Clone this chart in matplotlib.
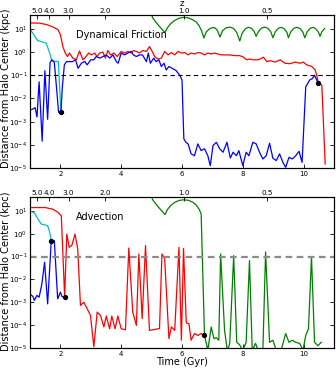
import numpy as np
import matplotlib
matplotlib.use("Agg")
import matplotlib.pyplot as plt

# ---------------- data (log10 of distance in kpc, time in Gyr) ----------------
# Top panel: Dynamical Friction
df_red_t = [0.99, 1.32, 1.54, 1.75, 1.92, 2.0, 2.08, 2.16, 2.23, 2.3, 2.41, 2.52, 2.63, 2.74, 2.8,
            2.93, 3.02, 3.13, 3.2, 3.29, 3.4, 3.48, 3.56, 3.65, 3.76, 3.87, 4.0, 4.11, 4.22, 4.33,
            4.4, 4.5, 4.6, 4.71, 4.83, 4.93, 5.02, 5.1, 5.21, 5.32, 5.43, 5.54, 5.65, 5.76, 5.87,
            5.98, 6.09, 6.2, 6.3, 6.41, 6.52, 6.63, 6.74, 6.85, 6.96, 7.07, 7.18, 7.29, 7.4, 7.57,
            7.73, 7.89, 8.0, 8.13, 8.22, 8.35, 8.51, 8.68, 8.79, 8.9, 9.06, 9.23, 9.39, 9.55, 9.72,
            9.88, 9.99, 10.1, 10.27, 10.38, 10.43, 10.49, 10.6, 10.71]
df_red_v = [1.26, 1.25, 1.19, 1.09, 0.97, 0.75, 0.24, -0.04, -0.19, -0.04, -0.26, -0.33, 0.05, -0.33, -0.26,
            -0.04, -0.12, -0.04, -0.19, -0.04, 0.0, -0.26, 0.07, -0.12, -0.04, -0.19, 0.03, -0.04, 0.03, -0.04,
            0.07, 0.03, -0.04, 0.07, 0.03, 0.24, 0.03, -0.19, -0.3, -0.26, 0.03, -0.12, -0.02, -0.12, 0.03,
            -0.04, -0.02, -0.12, -0.04, -0.08, -0.02, -0.04, -0.12, -0.04, -0.08, -0.04, -0.08, -0.12, -0.12, -0.12,
            -0.15, -0.15, -0.2, -0.33, -0.3, -0.33, -0.33, -0.22, -0.41, -0.37, -0.43, -0.33, -0.48, -0.5, -0.43,
            -0.48, -0.43, -0.55, -0.62, -0.77, -0.99, -1.35, -1.42, -4.83]

df_cyan_t = [0.99, 1.1, 1.25, 1.4, 1.53, 1.63, 1.71, 1.8, 1.93, 1.98, 2.02]
df_cyan_v = [1.0, 0.8, 0.5, 0.44, 0.39, 0.03, -0.33, -0.4, -0.4, -1.64, -2.6]

df_blue_t = [0.99, 1.1, 1.17, 1.23, 1.3, 1.4, 1.49, 1.58, 1.66, 1.72, 1.8, 1.87, 1.94, 2.02, 2.06,
             2.13, 2.2, 2.3, 2.4, 2.5, 2.58, 2.69, 2.8, 2.88, 3.0, 3.1, 3.18, 3.29, 3.4, 3.51, 3.62,
             3.73, 3.84, 3.9, 4.0, 4.11, 4.22, 4.33, 4.4, 4.5, 4.6, 4.7, 4.83, 4.89, 4.96, 5.07, 5.15,
             5.24, 5.32, 5.41, 5.48, 5.57, 5.68, 5.81, 5.92, 6.0, 6.06, 6.13, 6.2, 6.3, 6.41, 6.52,
             6.63, 6.74, 6.85, 6.93, 7.02, 7.13, 7.24, 7.35, 7.48, 7.59, 7.68, 7.79, 7.87, 8.0, 8.11,
             8.2, 8.33, 8.44, 8.55, 8.66, 8.77, 8.88, 8.99, 9.1, 9.21, 9.32, 9.41, 9.52, 9.63, 9.74,
             9.85, 9.95, 10.07, 10.2, 10.28, 10.36, 10.43, 10.49]
df_blue_v = [-2.51, -2.45, -2.4, -2.8, -1.28, -3.84, -0.8, -2.9, -0.45, -0.33, -0.45, -1.5, -2.6, -2.6, -1.57,
             -0.55, -0.41, -0.41, -0.41, -0.33, -0.7, -0.48, -0.4, -0.55, -0.33, -0.33, -0.19, -0.26, -0.19, -0.12, -0.26,
             -0.12, -0.41, -0.48, -0.04, -0.12, -0.04, 0.03, -0.12, -0.19, -0.12, -0.12, -0.41, -0.04, -0.48, -0.26, -0.41,
             -0.33, -0.62, -0.48, -0.77, -0.62, -0.7, -0.8, -0.99, -1.2, -3.74, -3.89, -3.96, -4.39, -4.47, -3.96,
             -4.25, -4.17, -4.47, -4.9, -4.03, -3.89, -4.17, -4.32, -3.89, -4.57, -4.32, -4.47, -4.25, -4.9, -4.32,
             -4.47, -3.89, -3.96, -4.32, -4.61, -4.47, -3.93, -4.58, -4.68, -4.39, -4.76, -4.97, -4.54, -4.61, -4.47,
             -4.28, -4.76, -1.5, -1.2, -1.15, -1.0, -1.2, -1.35]

df_green_t = [4.95, 5.05, 5.15, 5.25, 5.35, 5.44, 5.52, 5.62, 5.75, 5.9, 6.05, 6.2, 6.35, 6.47, 6.57,
              6.65, 6.72, 6.8, 6.9, 7.0, 7.08, 7.16, 7.25, 7.33, 7.45, 7.58, 7.7, 7.8, 7.9, 7.98,
              8.08, 8.18, 8.28, 8.37, 8.44, 8.52, 8.62, 8.72, 8.82, 8.92, 8.99, 9.07, 9.17, 9.27, 9.37,
              9.45, 9.5, 9.58, 9.68, 9.78, 9.88, 9.97, 10.04, 10.12, 10.22, 10.32, 10.42, 10.49, 10.54,
              10.6, 10.69]
df_green_v = [1.75, 1.45, 1.28, 1.12, 0.97, 0.85, 1.05, 1.22, 1.36, 1.46, 1.5, 1.48, 1.4, 1.3, 1.12,
              0.9, 0.61, 0.88, 1.0, 1.06, 1.05, 0.95, 0.65, 0.92, 1.05, 1.08, 1.02, 0.85, 0.48, 0.82,
              1.0, 1.07, 1.03, 0.9, 0.68, 0.9, 1.04, 1.08, 1.03, 0.88, 0.62, 0.88, 1.03, 1.07, 1.0,
              0.85, 0.62, 0.88, 1.03, 1.07, 1.02, 0.88, 0.62, 0.88, 1.03, 1.07, 0.98, 0.85, 0.68,
              0.88, 1.02]

df_dots_t = [2.02, 10.49]
df_dots_v = [-2.6, -1.35]

# Bottom panel: Advection
ad_red_t = [0.99, 1.5, 1.75, 1.92, 2.03, 2.14, 2.21, 2.29, 2.38, 2.48, 2.57, 2.66, 2.77, 2.88, 2.99,
            3.1, 3.21, 3.32, 3.43, 3.51, 3.62, 3.69, 3.8, 3.89, 4.0, 4.14, 4.25, 4.38, 4.5, 4.58,
            4.69, 4.8, 4.93, 5.26, 5.34, 5.43, 5.57, 5.65, 5.76, 5.9, 5.98, 6.05, 6.14, 6.23, 6.3,
            6.41, 6.52, 6.63, 6.74]
ad_red_v = [1.14, 1.14, 1.07, 0.93, 0.78, -2.78, -0.02, -0.6, -0.5, -0.02, -0.67, -3.14, -3.0, -3.28, -3.58,
            -4.95, -3.43, -3.58, -4.08, -3.6, -4.16, -3.6, -4.16, -3.6, -4.16, -4.2, -0.63, -3.43, -4.01, -0.89,
            -3.72, -0.52, -4.23, -4.15, -0.89, -1.1, -4.59, -4.08, -4.23, -0.6, -4.66, -0.65, -3.9, -3.94, -4.66,
            -4.37, -4.45, -4.37, -4.45]

ad_cyan_t = [0.99, 1.15, 1.26, 1.37, 1.58, 1.64, 1.7]
ad_cyan_v = [1.0, 0.9, 0.64, 0.42, 0.35, 0.1, -0.31]

ad_blue_t = [0.99, 1.1, 1.14, 1.23, 1.3, 1.39, 1.48, 1.58, 1.7, 1.8, 1.91, 2.0, 2.05, 2.13]
ad_blue_v = [-2.63, -2.75, -2.92, -2.7, -2.78, -2.2, -1.25, -3.07, -0.31, -0.31, -2.85, -2.56, -2.75, -2.78]

ad_green_t = [4.95, 5.05, 5.15, 5.25, 5.35, 5.44, 5.52, 5.62, 5.75, 5.9, 6.05, 6.2, 6.35, 6.47, 6.57,
              6.63, 6.74, 6.85, 6.96, 7.05, 7.13, 7.21, 7.27, 7.4, 7.49, 7.57, 7.7, 7.8, 7.89, 8.0,
              8.11, 8.22, 8.31, 8.42, 8.5, 8.66, 8.75, 8.88, 8.99, 9.1, 9.26, 9.41, 9.52, 9.63, 9.74,
              9.87, 9.98, 10.07, 10.16, 10.26, 10.36, 10.47, 10.58]
ad_green_v = [1.75, 1.45, 1.28, 1.12, 0.97, 0.83, 1.05, 1.22, 1.36, 1.45, 1.48, 1.46, 1.38, 1.25, 1.05,
              0.86, -4.45, -5.1, -4.08, -4.59, -4.55, -4.66, -0.89, -4.23, -5.1, -4.81, -0.96, -4.75, -4.85, -5.1,
              -4.75, -1.18, -5.1, -4.8, -5.1, -5.1, -0.8, -4.75, -4.66, -5.1, -5.1, -4.37, -4.75, -4.66, -4.75,
              -4.8, -5.1, -4.45, -4.16, -1.03, -4.75, -4.9, -4.75]

ad_dots_t = [1.7, 2.14, 6.74]
ad_dots_v = [-0.31, -2.78, -4.45]

threshold = 0.1

# redshift axis
z_labels = ["5.0", "4.0", "3.0", "2.0", "1.0", "0.5"]
z_times = [1.23, 1.63, 2.27, 3.46, 6.07, 8.79]

time_ticks = [2, 4, 6, 8, 10]
ytick_exp = [1, 0, -1, -2, -3, -4, -5]

# ---------------- plotting ----------------
plt.rcParams['font.family'] = ['DejaVu Sans']
fig = plt.figure(figsize=(3.36, 3.88), dpi=100)

ax_top = fig.add_axes([30/336, 1 - 168/388, 304/336, 153/388])
ax_bot = fig.add_axes([30/336, 1 - 348/388, 304/336, 151/388])

RED = (1, 0, 0)
CYAN = (0, 0.75, 0.75)
BLUE = (0, 0, 1)
GREEN = (0, 0.5, 0)
LW = 0.9


def p(v):
    return 10.0 ** np.asarray(v)


panels = [
    (ax_top, [(df_green_t, df_green_v, GREEN), (df_red_t, df_red_v, RED),
              (df_cyan_t, df_cyan_v, CYAN), (df_blue_t, df_blue_v, BLUE)],
     df_dots_t, df_dots_v, "Dynamical Friction", dict(color='k', lw=0.8, ls=(0, (4, 3))), 0.52),
    (ax_bot, [(ad_green_t, ad_green_v, GREEN), (ad_red_t, ad_red_v, RED),
              (ad_cyan_t, ad_cyan_v, CYAN), (ad_blue_t, ad_blue_v, BLUE)],
     ad_dots_t, ad_dots_v, "Advection", dict(color='0.55', lw=1.6, ls=(0, (3, 2))), 0.51),
]

for ax, lines, dt, dv, title, hl, ly in panels:
    for t, v, c in lines:
        ax.plot(t, p(v), color=c, lw=LW)
    ax.plot(dt, p(dv), 'o', color='k', ms=2.8, zorder=5)
    ax.axhline(threshold, **hl)
    ax.set_yscale('log')
    ax.set_xlim(1, 11)
    ax.set_ylim(1e-5, 40)
    ax.set_yticks(p(ytick_exp))
    ax.set_yticklabels([r'$10^{%d}$' % e for e in ytick_exp])
    ax.minorticks_off()
    ax.set_xticks(time_ticks)
    ax.set_xticklabels([str(x) for x in time_ticks])
    ax.tick_params(direction='in', length=3, width=0.6, labelsize=5, pad=2,
                   right=True, top=False)
    ax.set_ylabel("Distance from Halo Center (kpc)", fontsize=7.1)
    ax.yaxis.set_label_coords(-0.064, ly)
    ax.text(0.15, 0.87, title, transform=ax.transAxes, fontsize=7, va='center', ha='left')
    for s in ax.spines.values():
        s.set_linewidth(0.8)

    axz = ax.twiny()
    axz.set_xlim(ax.get_xlim())
    axz.set_xticks(z_times)
    axz.set_xticklabels(z_labels)
    axz.tick_params(direction='in', length=3, width=0.6, labelsize=5.2, pad=0.5)

    if ax is ax_top:
        axz.set_xlabel("z", fontsize=6.2)
        axz.xaxis.set_label_coords(0.5, 1.058)

ax_bot.set_xlabel("Time (Gyr)", fontsize=7, labelpad=0)

fig.savefig("out.png", dpi=100)
